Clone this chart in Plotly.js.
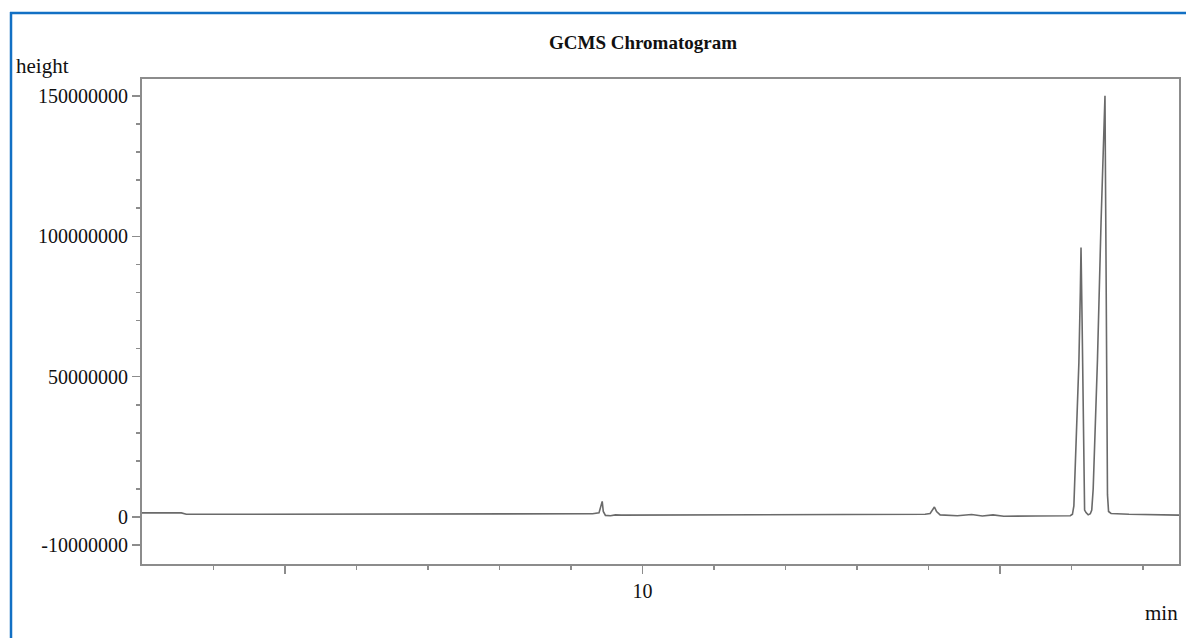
<!DOCTYPE html>
<html>
<head>
<meta charset="utf-8">
<script src="https://cdn.plot.ly/plotly-3.0.1.min.js"></script>
<style>
  html, body { margin: 0; padding: 0; background: #ffffff; }
  #chart { width: 1186px; height: 638px; }
</style>
</head>
<body>
<div id="chart"></div>
<script>
// Retention time (min)
const retentionTime = [3.00, 3.55, 3.62, 5.00, 7.00, 9.30, 9.39, 9.415, 9.435, 9.45, 9.48, 9.55, 9.62, 9.70,
  11.00, 12.50, 13.95, 14.02, 14.06, 14.08, 14.11, 14.16, 14.40, 14.60, 14.75, 14.90, 15.05, 15.20, 15.50,
  15.98, 16.01, 16.03, 16.05, 16.08, 16.10, 16.12, 16.13, 16.145, 16.155, 16.17, 16.18, 16.20, 16.23, 16.26,
  16.28, 16.30, 16.36, 16.41, 16.455, 16.465, 16.475, 16.49, 16.50, 16.515, 16.55, 16.80, 17.10, 17.50];
// Detector response (height)
const intensity = [1.5e6, 1.5e6, 1.0e6, 1.0e6, 1.1e6, 1.2e6, 1.5e6, 4.0e6, 5.6e6, 2.0e6, 0.6e6, 0.5e6, 0.8e6, 0.7e6,
  0.8e6, 0.9e6, 1.0e6, 1.3e6, 3.0e6, 3.6e6, 2.0e6, 0.8e6, 0.5e6, 0.9e6, 0.4e6, 0.8e6, 0.3e6, 0.4e6, 0.4e6,
  0.5e6, 1.0e6, 4.0e6, 18e6, 42e6, 55e6, 80e6, 96e6, 70e6, 45e6, 12e6, 2.5e6, 1.6e6, 0.8e6, 1.2e6,
  2.5e6, 10e6, 56e6, 105e6, 148e6, 150e6, 110e6, 40e6, 8e6, 2.0e6, 1.3e6, 1.0e6, 0.8e6, 0.7e6];

// Axis ticks
const yTickVals = [-10000000, 0, 50000000, 100000000, 150000000];
const yTickText = ['-10000000', '0', '50000000', '100000000', '150000000'];
const yMinorVals = [-10000000, 10000000, 20000000, 30000000, 40000000, 60000000, 70000000, 80000000, 90000000,
  110000000, 120000000, 130000000, 140000000];
const xTickVals = [5, 10, 15];
const xTickText = ['', '10', ''];
const xMinorVals = [4, 6, 7, 8, 9, 11, 12, 13, 14, 16, 17];

const serif = 'Liberation Serif, Times New Roman, serif';
const axisGray = '#8c8c8c';
const textColor = '#111111';

const PL = 142, PR = 1179, PT = 79, PB = 564;
const px = v => (v - PL) / (PR - PL);
const py = v => (PB - v) / (PB - PT);

const trace = {
  x: retentionTime,
  y: intensity,
  type: 'scatter',
  mode: 'lines',
  line: { color: '#6a6a6a', width: 1.6 },
  hoverinfo: 'x+y'
};

const layout = {
  width: 1186,
  height: 638,
  margin: { l: PL, r: 1186 - PR, t: PT, b: 638 - PB },
  paper_bgcolor: '#ffffff',
  plot_bgcolor: '#ffffff',
  showlegend: false,
  title: {
    text: '<b>GCMS Chromatogram</b>',
    font: { family: serif, size: 19, color: textColor },
    x: 643 / 1186, xanchor: 'center',
    y: 1 - 42 / 638, yanchor: 'middle'
  },
  xaxis: {
    range: [3, 17.5],
    showgrid: false,
    zeroline: false,
    showline: true, mirror: true, linecolor: axisGray, linewidth: 2,
    tickmode: 'array', tickvals: xTickVals, ticktext: xTickText,
    ticks: 'outside', ticklen: 8, tickwidth: 1.5, tickcolor: axisGray,
    tickfont: { family: serif, size: 20, color: textColor },
    minor: { tickmode: 'array', tickvals: xMinorVals, ticks: 'outside', ticklen: 4, tickwidth: 1.5, tickcolor: axisGray, showgrid: false }
  },
  yaxis: {
    range: [-16.7e6, 156e6],
    showgrid: false,
    zeroline: false,
    showline: true, mirror: true, linecolor: axisGray, linewidth: 2,
    tickmode: 'array', tickvals: yTickVals, ticktext: yTickText,
    ticks: 'outside', ticklen: 8, tickwidth: 1.5, tickcolor: axisGray,
    tickfont: { family: serif, size: 20, color: textColor },
    minor: { tickmode: 'array', tickvals: yMinorVals, ticks: 'outside', ticklen: 4, tickwidth: 1.5, tickcolor: axisGray, showgrid: false }
  },
  annotations: [
    { text: 'height', xref: 'paper', yref: 'paper', x: px(14), y: py(66), xanchor: 'left', yanchor: 'middle',
      showarrow: false, font: { family: serif, size: 21, color: textColor } },
    { text: 'min', xref: 'paper', yref: 'paper', x: px(1180), y: py(613), xanchor: 'right', yanchor: 'middle',
      showarrow: false, font: { family: serif, size: 21, color: textColor } }
  ],
  shapes: [
    { type: 'line', xref: 'paper', yref: 'paper', x0: px(10), x1: px(1190), y0: py(13), y1: py(13),
      line: { color: '#1270c4', width: 2.5 }, layer: 'above' },
    { type: 'line', xref: 'paper', yref: 'paper', x0: px(11), x1: px(11), y0: py(12), y1: py(640),
      line: { color: '#1270c4', width: 2.5 }, layer: 'above' }
  ]
};

Plotly.newPlot('chart', [trace], layout, { displayModeBar: false, staticPlot: true });
</script>
</body>
</html>
